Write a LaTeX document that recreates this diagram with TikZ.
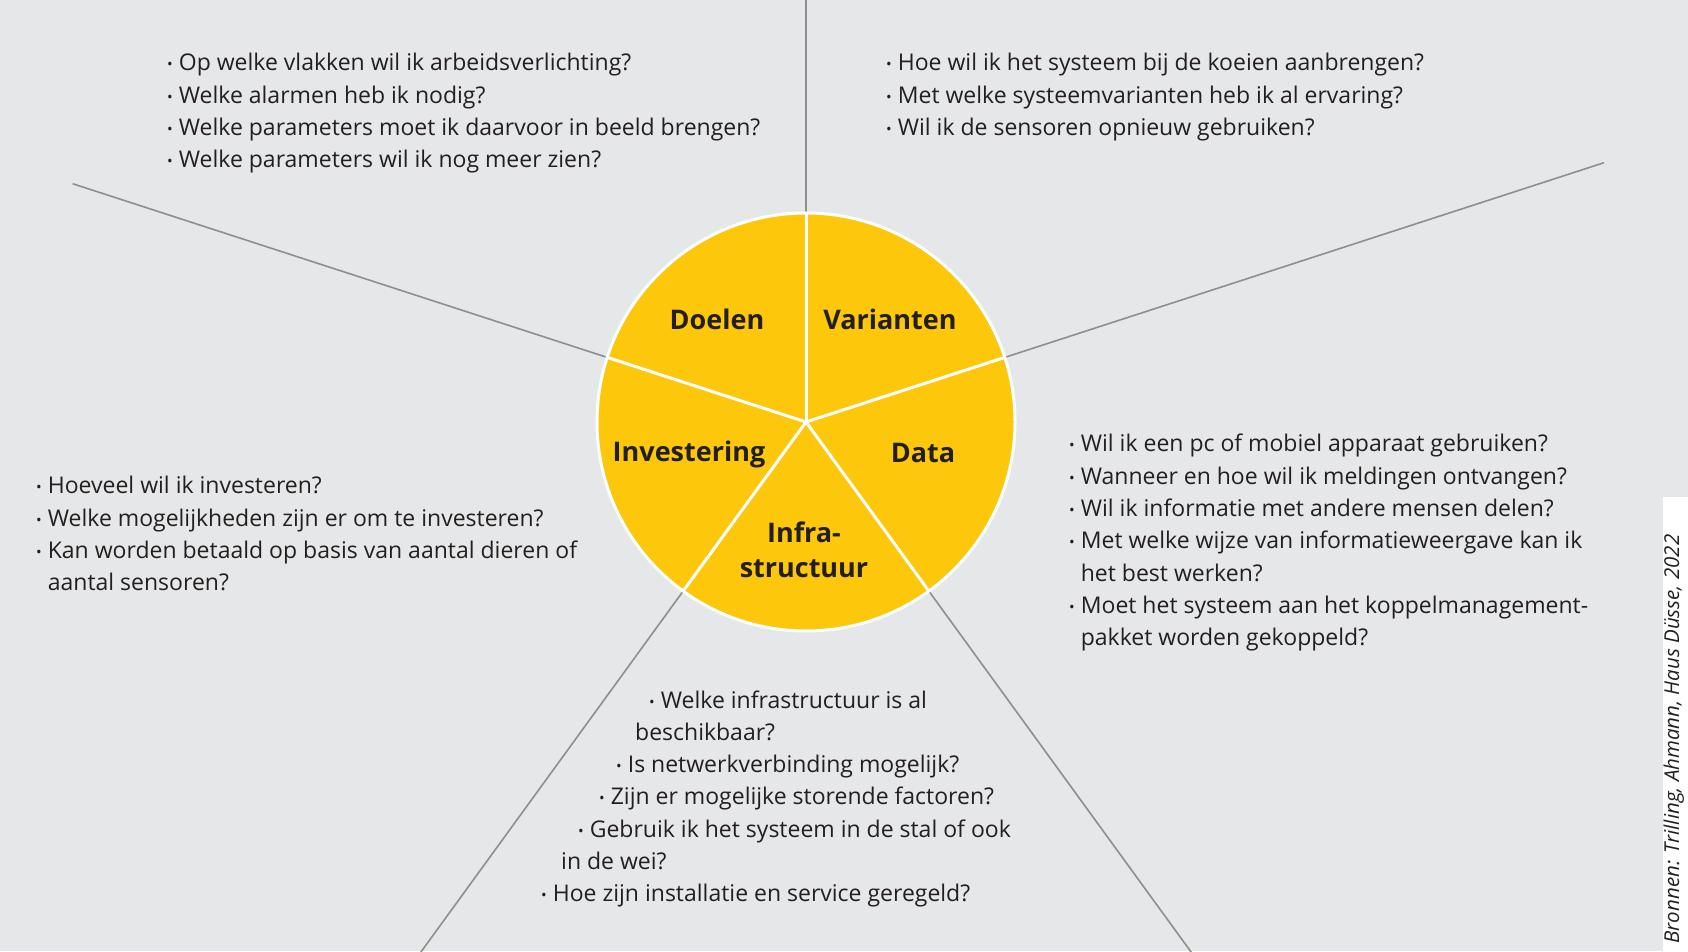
\documentclass[tikz,border=0pt]{standalone}
\usepackage{fontspec}
\setmainfont{Open Sans}
\usetikzlibrary{positioning, calc}

\definecolor{achtergrond}{HTML}{E6E7E8}
\definecolor{geel}{HTML}{FDC70C}
\definecolor{spaak}{HTML}{8E8E8E}
\definecolor{inkt}{HTML}{231F20}
\newcommand{\bol}{{\fontsize{15}{15}\selectfont\raisebox{1pt}{\textbullet}}\hspace{6pt}}

\tikzset{
  vraag/.style={anchor=base west, inner sep=0pt, text=inkt, font=\fontsize{23}{32}\selectfont},
  sector/.style={text=inkt, font=\fontsize{27}{35}\selectfont\bfseries, align=center},
  lijn/.style={draw=spaak, line width=1.6pt},
  rand/.style={draw=white, line width=3pt},
}

\begin{document}
\begin{tikzpicture}[x=1pt, y=1pt]
  % achtergrond, maten in pixels met y van onder
  \fill[achtergrond] (0,0) rectangle (1688,951);
  \useasboundingbox (0,0) rectangle (1688,951);
  \clip (0,0) rectangle (1688,951);
  \def\R{209}
  \coordinate (M) at (806,529);
  % grijze spaken naar buiten
  \draw[lijn] (M) ++(90:\R) -- ++(90:240);
  \draw[lijn] (M) ++(162:\R) -- ++(162:562);
  \draw[lijn] (M) ++(18:\R) -- ++(18:630);
  \draw[lijn] (M) ++(234:\R) -- ++(234:460);
  \draw[lijn] (M) ++(306:\R) -- ++(306:460);
  % de schijf met vijf delen
  \fill[geel] (M) circle (\R);
  \foreach \a in {90,162,234,306,18}
    \draw[rand] (M) -- ++(\a:\R);
  \draw[rand] (M) circle (\R);
  \node[sector] (doelen) at (717,632) {Doelen};
  \node[sector] (varianten) at (890,632) {Varianten};
  \node[sector] (investering) at (689,497) {Investering};
  \node[sector] (data) at (923,498) {Data};
  \node[sector] (infra) at (804,401) {Infra-\\structuur};
  % vragen per deel
  \foreach \t [count=\i] in {Op welke vlakken wil ik arbeidsverlichting?,
      Welke alarmen heb ik nodig?,
      Welke parameters moet ik daarvoor in beeld brengen?,
      Welke parameters wil ik nog meer zien?}
    \node[vraag] (doel-\i) at (167,912.3-32.3*\i) {\bol\t};
  \foreach \t [count=\i] in {Hoe wil ik het systeem bij de koeien aanbrengen?,
      Met welke systeemvarianten heb ik al ervaring?,
      Wil ik de sensoren opnieuw gebruiken?}
    \node[vraag] (var-\i) at (886,912.3-32.3*\i) {\bol\t};
  \foreach \t [count=\i] in {\bol Wil ik een pc of mobiel apparaat gebruiken?,
      \bol Wanneer en hoe wil ik meldingen ontvangen?,
      \bol Wil ik informatie met andere mensen delen?,
      \bol Met welke wijze van informatieweergave kan ik,
      \phantom{\bol}het best werken?,
      \bol Moet het systeem aan het koppelmanagement-,
      \phantom{\bol}pakket worden gekoppeld?}
    \node[vraag] (data-\i) at (1069,531.3-32.3*\i) {\t};
  \foreach \t [count=\i] in {\bol Hoeveel wil ik investeren?,
      \bol Welke mogelijkheden zijn er om te investeren?,
      \bol Kan worden betaald op basis van aantal dieren of,
      \phantom{\bol}aantal sensoren?}
    \node[vraag] (inv-\i) at (36,489.3-32.3*\i) {\t};
  \foreach \x/\t [count=\i] in {649/{\bol Welke infrastructuur is al},
      635/{beschikbaar?},
      616/{\bol Is netwerkverbinding mogelijk?},
      599/{\bol Zijn er mogelijke storende factoren?},
      578/{\bol Gebruik ik het systeem in de stal of ook},
      561/{in de wei?},
      541/{\bol Hoe zijn installatie en service geregeld?}}
    \node[vraag] (infra-\i) at (\x,275.3-32.3*\i) {\t};
  % bronvermelding
  \fill[white] (1663,0) rectangle (1688,454);
  \node[rotate=90, anchor=base, inner sep=0pt, text=inkt, font=\fontsize{20.5}{20}\selectfont\itshape]
    (bron) at (1679,212) {Bronnen: Trilling, Ahmann, Haus Düsse, 2022};
\end{tikzpicture}
\end{document}
